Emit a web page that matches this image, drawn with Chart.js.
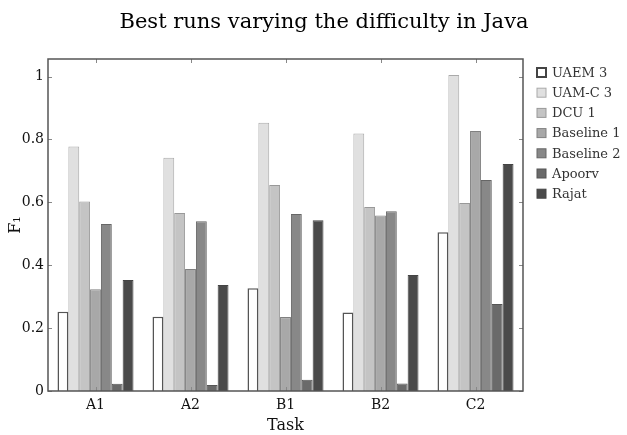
<!DOCTYPE html>
<html>
<head>
<meta charset="utf-8">
<script src="https://cdn.jsdelivr.net/npm/chart.js@4/dist/chart.umd.min.js"></script>
<style>
  html, body { margin: 0; padding: 0; background: #fff; }
  #wrap { width: 627px; height: 435px; }
</style>
</head>
<body>
<div id="wrap"><canvas id="chart" width="627" height="435"></canvas></div>
<script>
const tasks = ['A1', 'A2', 'B1', 'B2', 'C2']
const runNames = ['UAEM 3', 'UAM-C 3', 'DCU 1', 'Baseline 1', 'Baseline 2', 'Apoorv', 'Rajat']

const uaem3     = [0.252, 0.236, 0.327, 0.250, 0.505]
const uamc3     = [0.778, 0.742, 0.853, 0.819, 1.005]
const dcu1      = [0.603, 0.566, 0.655, 0.585, 0.598]
const baseline1 = [0.324, 0.388, 0.235, 0.558, 0.827]
const baseline2 = [0.531, 0.540, 0.563, 0.572, 0.671]
const apoorv    = [0.023, 0.019, 0.036, 0.024, 0.277]
const rajat     = [0.353, 0.337, 0.543, 0.369, 0.722]

const yTicks = [0, 0.2, 0.4, 0.6, 0.8, 1]

const fills   = ['#ffffff', '#e0e0e0', '#c4c4c4', '#a8a8a8', '#888888', '#6a6a6a', '#4a4a4a']
const borders = ['#555555', '#aaaaaa', '#999999', '#808080', '#666666', '#555555', '#444444']

const serif = "'DejaVu Serif', serif"

let series = [uaem3, uamc3, dcu1, baseline1, baseline2, apoorv, rajat]
let datasets = series.map(function(vals, i){
    return {
        label: runNames[i],
        data: vals,
        backgroundColor: fills[i],
        borderColor: borders[i],
        borderWidth: i === 0 ? 1.5 : 1,
        borderSkipped: 'bottom',
        categoryPercentage: 0.8,
        barPercentage: 1.0
    }
})

// frame, inward ticks, title, axis labels, legend
const decor = {
    id: 'decor',
    afterDraw(chart){
        const ctx = chart.ctx
        const a = chart.chartArea
        const x = chart.scales.x
        const y = chart.scales.y
        ctx.save()

        // inward ticks
        ctx.strokeStyle = '#888'
        ctx.lineWidth = 1
        yTicks.forEach(function(v){
            let py = Math.round(y.getPixelForValue(v)) + 0.5
            ctx.beginPath()
            ctx.moveTo(a.left, py); ctx.lineTo(a.left + 4, py)
            ctx.moveTo(a.right, py); ctx.lineTo(a.right - 4, py)
            ctx.stroke()
        })
        tasks.forEach(function(t, i){
            let px = Math.round(x.getPixelForValue(i)) + 0.5
            ctx.beginPath()
            ctx.moveTo(px, a.top); ctx.lineTo(px, a.top + 4)
            ctx.moveTo(px, a.bottom); ctx.lineTo(px, a.bottom - 4)
            ctx.stroke()
        })

        // frame
        ctx.strokeStyle = '#555'
        ctx.lineWidth = 1.5
        ctx.strokeRect(a.left, a.top, a.right - a.left, a.bottom - a.top)

        // title
        ctx.fillStyle = '#000'
        ctx.font = '21px ' + serif
        ctx.textAlign = 'center'
        ctx.textBaseline = 'middle'
        ctx.fillText('Best runs varying the difficulty in Java', 324, 23)

        // axis titles
        ctx.font = '16px ' + serif
        ctx.fillStyle = '#111'
        ctx.fillText('Task', (a.left + a.right) / 2, 426)
        ctx.save()
        ctx.translate(16, (a.top + a.bottom) / 2)
        ctx.rotate(-Math.PI / 2)
        ctx.fillText('F\u2081', 0, 0)
        ctx.restore()

        // legend
        ctx.font = '13px ' + serif
        ctx.textAlign = 'left'
        runNames.forEach(function(name, i){
            let cy = 72.5 + i * 20.2
            ctx.fillStyle = fills[i]
            ctx.strokeStyle = i === 0 ? '#444' : borders[i]
            ctx.lineWidth = i === 0 ? 2 : 1
            ctx.fillRect(537, cy - 4.5, 9, 9)
            ctx.strokeRect(537, cy - 4.5, 9, 9)
            ctx.fillStyle = '#333'
            ctx.fillText(name, 552, cy + 1)
        })
        ctx.restore()
    }
}

new Chart(document.getElementById('chart'), {
    type: 'bar',
    data: { labels: tasks, datasets: datasets },
    options: {
        responsive: false,
        animation: false,
        layout: { padding: { top: 59, right: 104, left: 0, bottom: 0 } },
        scales: {
            x: {
                grid: { display: false, drawTicks: false },
                border: { display: false },
                ticks: { color: '#111', font: { family: serif, size: 14 }, padding: 6 },
                afterFit: function(s){ s.height = 44 }
            },
            y: {
                min: 0,
                max: 1.056,
                grid: { display: false, drawTicks: false },
                border: { display: false },
                afterBuildTicks: function(s){ s.ticks = yTicks.map(function(v){ return { value: v } }) },
                ticks: {
                    color: '#111',
                    font: { family: serif, size: 14 },
                    padding: 4,
                    callback: function(v){ return String(Math.round(v * 10) / 10) }
                },
                afterFit: function(s){ s.width = 48 }
            }
        },
        plugins: {
            legend: { display: false },
            title: { display: false },
            tooltip: { enabled: false }
        }
    },
    plugins: [decor]
})
</script>
</body>
</html>
